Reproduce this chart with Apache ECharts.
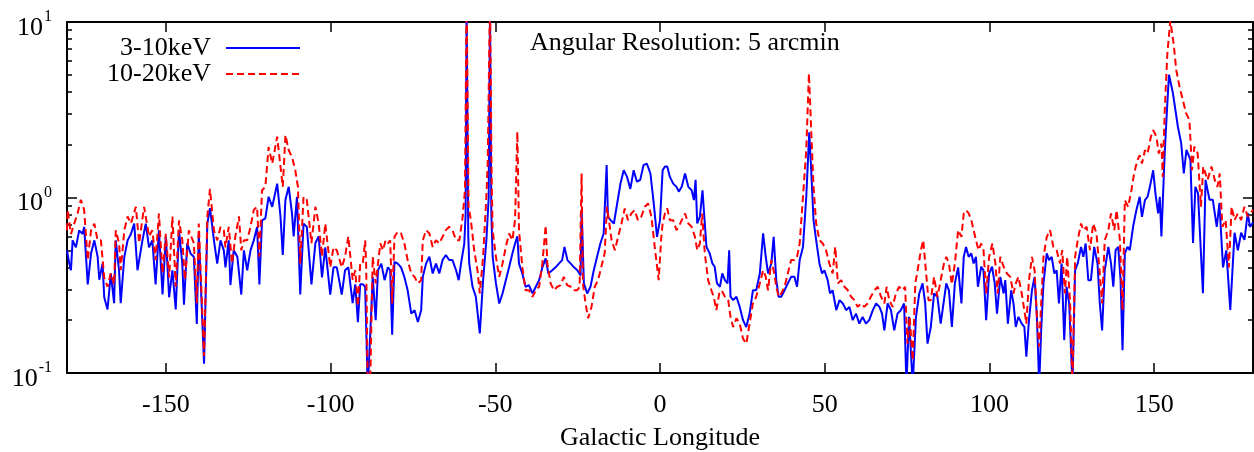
<!DOCTYPE html>
<html><head><meta charset="utf-8">
<script src="https://cdn.jsdelivr.net/npm/echarts@6/dist/echarts.min.js"></script>
<style>html,body{margin:0;padding:0;background:#fff}#c{width:1254px;height:452px}</style>
</head><body><div id="c"></div>
<script>
// ---- data ----
const lonBlue = [-180,-179.3,-178.8,-178.3,-177.3,-176.3,-175.3,-174.8,-173.7,-172.7,-171.7,-170.7,-170.2,-169.2,-168.7,-167.7,-166.7,-165.7,-165.2,-164.2,-163.7,-162.6,-161.6,-160.6,-159.6,-158.6,-157.1,-156.1,-155.1,-154.1,-153.1,-152.1,-151,-150,-149,-148,-147,-146,-145,-144.5,-143.5,-142.5,-141.5,-140.6,-140,-138.4,-137.4,-136.6,-135.4,-134.4,-133.4,-132.4,-131.9,-130.9,-130.4,-129.4,-128.3,-127.1,-126.3,-125.3,-124.3,-123.3,-122.3,-121.6,-120.8,-119.8,-118.8,-117.7,-116.2,-115.2,-114.5,-113.7,-112.7,-111.7,-111.2,-110.2,-109.2,-108.2,-107.2,-105.8,-104.6,-103.6,-102.6,-101.6,-100.1,-99.1,-98.1,-96.6,-95.6,-94.6,-93.3,-92.5,-91.7,-91,-90.2,-89.5,-88.7,-88.2,-87.2,-86.3,-85.6,-84.6,-83.6,-82.6,-81.9,-81.3,-80.6,-79.6,-78.6,-77.6,-76.6,-75.5,-74.5,-73.5,-72.5,-72,-71,-70,-69,-68,-67,-66,-65,-64,-63,-61.9,-61.1,-60.4,-59.4,-59,-58.7,-58.2,-57.9,-56.9,-55.9,-54.7,-53.7,-52.7,-52,-51.6,-51.2,-50.8,-49.8,-48.8,-47.8,-46.8,-45.8,-44.8,-44,-43.3,-42.8,-41.8,-40.8,-39.8,-38.7,-37.7,-36.7,-35.7,-34.7,-33.9,-32.7,-31.7,-30.7,-29.7,-29,-28.1,-27.1,-26.1,-25.1,-24.1,-23.8,-23.1,-22.1,-21.1,-20.1,-19.1,-18.1,-17.1,-16.2,-15.8,-15,-14,-13,-12,-11,-10,-9,-8,-7,-6,-5,-4,-2.9,-1.9,-0.9,0,0.8,1.5,2.2,3,4,5,5.7,6.6,7.6,8.6,9.6,10.3,10.8,11.3,12.1,12.9,13.6,14.1,15.1,15.9,16.6,17.3,18.2,18.9,19.7,20.5,21,21.4,22.2,23.2,24.2,25.2,26.2,27.2,28.2,29.2,30.3,31.3,32.1,32.8,33.8,34.5,35.3,36,36.8,37.8,38.8,39.8,40.8,41.6,42.4,43.4,44.4,45.3,45.9,46.6,47.4,48.4,49.2,49.9,50.9,51.6,52.4,53.5,54.5,55.5,56.5,57.5,58.5,59.5,60.5,61.5,62.5,63.5,64.6,65.6,66.6,67.4,68.1,69.1,70.1,71.1,72.1,73.1,74.1,74.8,75.6,76.7,77.7,78.7,79.7,80.5,81.2,82.2,83.2,84.2,85.2,86.2,86.9,87.7,88.6,89.5,90.5,91.5,92.2,92.9,93.7,94.5,95.2,95.9,96.5,97.5,98.2,99,99.9,100.8,101.6,102.3,103.3,104.3,104.8,105.6,106.6,107.3,108,108.8,109.8,110.6,111.2,112,112.9,113.7,114.4,115.1,115.7,116.4,117.4,118.1,118.9,119.7,120.4,121.1,121.9,122.7,123.4,124.2,125.2,126,126.8,127.8,128.5,129.2,130,130.8,131.8,132.8,133.5,134.2,135,136.1,136.9,137.6,138.3,139.1,139.8,140.4,141.1,141.9,142.6,143.6,144.6,145.6,146.3,147.2,148,148.7,149.7,150.4,151.2,151.7,152.2,153.2,154,154.5,155.7,157.2,158.2,159,159.8,161,161.8,162.5,163.3,164.8,165.6,166.8,167.8,169,169.8,170.9,171.9,173.1,174.4,175.4,176.4,177.4,178.4,179.1,180];
const valBlue = [0.50,0.42,0.385,0.57,0.52,0.65,0.62,0.68,0.32,0.48,0.57,0.46,0.34,0.42,0.27,0.23,0.37,0.25,0.57,0.385,0.25,0.46,0.57,0.62,0.71,0.385,0.57,0.71,0.52,0.57,0.32,0.65,0.28,0.60,0.27,0.385,0.23,0.65,0.42,0.245,0.55,0.48,0.46,0.19,0.62,0.113,0.71,0.87,0.57,0.42,0.57,0.50,0.40,0.57,0.317,0.50,0.46,0.28,0.50,0.385,0.50,0.57,0.68,0.32,0.74,0.76,1.01,0.885,1.20,0.78,0.47,0.97,1.15,0.81,0.60,1.01,0.28,0.71,0.68,0.32,0.55,0.60,0.35,0.52,0.28,0.40,0.40,0.28,0.385,0.40,0.25,0.32,0.195,0.32,0.32,0.31,0.08,0.08,0.353,0.20,0.385,0.42,0.338,0.40,0.385,0.165,0.43,0.42,0.40,0.353,0.296,0.218,0.228,0.195,0.228,0.353,0.42,0.46,0.369,0.42,0.369,0.44,0.47,0.44,0.44,0.385,0.338,0.42,0.547,0.80,12,0.60,0.42,0.31,0.272,0.168,0.338,0.57,1.0,12,0.81,0.46,0.324,0.249,0.284,0.338,0.40,0.48,0.547,0.60,0.42,0.369,0.31,0.317,0.284,0.31,0.338,0.40,0.45,0.369,0.385,0.40,0.42,0.44,0.523,0.44,0.42,0.40,0.385,0.36,0.85,0.324,0.284,0.31,0.385,0.46,0.547,0.624,1.53,0.776,0.743,0.711,0.924,1.20,1.43,1.31,1.12,1.43,1.23,1.26,1.53,1.56,1.37,0.924,0.597,0.743,1.43,1.50,1.50,1.31,1.20,1.15,1.08,1.15,1.37,1.15,1.10,0.966,1.26,0.711,0.776,1.10,0.711,0.523,0.48,0.421,0.403,0.324,0.31,0.369,0.338,0.324,0.501,0.272,0.26,0.272,0.238,0.20,0.183,0.218,0.296,0.296,0.369,0.624,0.459,0.369,0.421,0.597,0.338,0.272,0.272,0.296,0.324,0.353,0.353,0.31,0.44,0.523,1.01,2.35,1.43,0.743,0.571,0.421,0.369,0.385,0.338,0.284,0.296,0.228,0.26,0.249,0.228,0.238,0.20,0.218,0.191,0.209,0.191,0.20,0.228,0.249,0.238,0.218,0.175,0.249,0.228,0.175,0.218,0.228,0.249,0.085,0.209,0.085,0.209,0.284,0.324,0.249,0.147,0.183,0.284,0.272,0.191,0.26,0.324,0.296,0.183,0.324,0.40,0.249,0.459,0.523,0.459,0.48,0.421,0.459,0.31,0.403,0.385,0.20,0.369,0.403,0.324,0.218,0.353,0.284,0.338,0.191,0.296,0.249,0.183,0.209,0.191,0.183,0.124,0.20,0.296,0.353,0.209,0.085,0.175,0.324,0.48,0.44,0.459,0.369,0.385,0.249,0.421,0.154,0.31,0.249,0.085,0.385,0.421,0.523,0.459,0.547,0.338,0.338,0.523,0.421,0.249,0.175,0.385,0.523,0.421,0.31,0.501,0.523,0.338,0.135,0.48,0.523,0.501,0.681,0.847,1.01,0.776,0.966,1.01,1.15,1.43,1.05,0.811,1.01,0.60,1.8,3.45,5.0,3.92,2.53,2.04,1.37,1.87,1.64,0.55,1.15,1.06,0.285,1.26,0.97,0.97,0.68,0.93,0.40,0.50,0.229,0.63,0.50,0.63,0.573,0.815,0.68,0.72];
const lonRed = [-180,-179.8,-178.8,-177.8,-176.8,-175.8,-174.8,-173.7,-172.7,-171.7,-170.7,-169.7,-168.7,-167.7,-166.7,-165.7,-165.2,-164.2,-163.7,-162.6,-161.6,-160.6,-159.1,-158.1,-156.6,-155.1,-154.1,-153.1,-152.1,-151,-150,-149,-148,-147,-146,-145,-144.2,-143,-141.5,-140.6,-140,-138.4,-137.4,-136.6,-135.4,-134.4,-133.4,-132.4,-131.9,-130.9,-129.9,-128.9,-127.8,-127.1,-126.3,-125.3,-124.3,-123.3,-122.3,-121.6,-120.8,-119.8,-118.8,-117.7,-116.2,-115.2,-114.5,-113.7,-112.7,-111.7,-110.7,-109.9,-109.2,-108.2,-107.2,-105.8,-104.6,-103.6,-102.6,-101.6,-100.1,-99.1,-98.1,-96.6,-95.6,-94.6,-93.3,-92.5,-91.7,-91,-90.2,-89.5,-89.2,-88.7,-88,-87.2,-86.3,-85.6,-84.9,-84.1,-83.3,-82.6,-81.9,-81.3,-80.6,-79.6,-78.6,-77.6,-76.6,-75.5,-74.5,-73.5,-72.5,-72,-71,-70,-69,-68,-67,-66,-65,-64,-63,-61.9,-60.9,-59.9,-59.2,-58.7,-58.1,-57.4,-56.4,-55.4,-54.7,-53.7,-52.7,-52.3,-51.6,-51.1,-50.8,-49.8,-48.8,-47.8,-46.8,-45.8,-44.8,-44,-43.3,-42.8,-41.8,-40.8,-39.8,-38.7,-37.7,-36.7,-35.7,-34.7,-34.2,-33.2,-32.2,-31.2,-30.2,-29.2,-28.2,-27.1,-26.1,-25.1,-24.4,-23.8,-23.4,-22.6,-21.8,-20.8,-19.8,-18.8,-17.8,-16.8,-16.1,-15.5,-14.7,-13.7,-12.7,-11.7,-10.7,-9.7,-8.7,-7.7,-6.7,-5.7,-4.6,-3.6,-2.6,-1.6,-0.4,0.4,0.8,1.5,2.2,3,4,5,5.7,6.6,7.6,8.6,9.6,10.6,11.3,12.1,12.8,13.6,14.6,15.6,16.3,17.1,18,18.7,19.7,20.7,21.4,22.2,23.2,24.2,25.2,26.2,27.2,28.2,29.2,30.3,31.3,32.1,32.8,33.8,34.5,35.3,36,36.8,37.8,38.8,39.8,40.8,41.6,42.4,43.4,44.4,45.2,45.9,46.6,47.4,48.4,49.4,50.4,51.4,52.4,53.2,54,55,56,57,58,59,60,61,62,63,64,65.1,66.1,67.1,68.1,68.8,69.6,70.6,71.6,72.6,73.6,74.4,75.1,75.8,76.7,77.5,78.2,79.2,79.9,80.7,81.5,82.2,83.2,84.2,85.2,86.2,86.9,87.7,88.6,89.5,90.5,91.5,92.2,92.9,93.7,94.5,95.2,95.9,96.7,97.5,98.2,99,99.9,100.9,101.8,102.5,103.3,104.3,105.3,106.3,107.3,108,108.8,109.8,110.6,111.2,112,112.9,113.7,114.4,115.1,115.7,116.4,117.4,118.4,119.4,120.4,121.4,122.1,122.9,123.6,124.5,125.2,126,126.8,127.8,128.5,129.5,130.5,131.5,132.5,133.5,134.2,135,136.1,136.9,137.9,138.6,139.6,140.4,141.1,142.1,143.1,143.9,144.9,145.6,146.3,147.2,148,149,149.7,150.7,151.4,152.2,152.6,153.2,154,154.9,155.9,156.7,157.7,158.7,159.7,160.7,161.5,162.2,163.2,164.2,164.9,166.2,167.4,168.4,169.2,169.9,170.7,171.7,172.7,173.5,174.4,175.4,176.4,177.4,178.4,180];
const valRed = [0.65,0.85,0.62,0.71,0.81,0.97,0.85,0.44,0.65,0.71,0.57,0.57,0.35,0.31,0.37,0.32,0.65,0.55,0.385,0.65,0.78,0.71,0.885,0.55,0.885,0.60,0.65,0.44,0.81,0.37,0.62,0.35,0.78,0.31,0.74,0.57,0.34,0.65,0.55,0.25,0.71,0.125,0.78,1.12,0.65,0.57,0.68,0.65,0.52,0.68,0.42,0.60,0.78,0.50,0.57,0.57,0.68,0.85,0.885,0.46,1.10,1.15,1.94,1.56,2.22,1.50,1.15,2.27,1.86,1.70,1.43,1.15,0.42,1.01,0.97,0.55,0.885,0.71,0.46,0.71,0.40,0.52,0.50,0.40,0.46,0.60,0.34,0.385,0.24,0.42,0.42,0.57,0.42,0.08,0.08,0.459,0.324,0.42,0.547,0.50,0.57,0.547,0.57,0.249,0.597,0.638,0.624,0.547,0.44,0.369,0.353,0.324,0.338,0.57,0.652,0.624,0.523,0.571,0.547,0.597,0.652,0.681,0.652,0.571,0.571,0.776,1.10,14,0.885,0.743,0.50,0.385,0.284,0.459,1.01,1.56,14,1.26,0.652,0.459,0.353,0.42,0.523,0.624,0.571,0.743,2.37,0.652,0.403,0.296,0.296,0.272,0.296,0.31,0.421,0.695,0.421,0.324,0.296,0.31,0.317,0.353,0.317,0.31,0.296,0.296,0.31,1.37,0.324,0.249,0.205,0.238,0.31,0.338,0.403,0.48,0.885,0.743,0.571,0.501,0.597,0.711,0.866,0.743,0.811,0.847,0.743,0.776,0.885,0.924,0.776,0.523,0.338,0.597,0.711,0.811,0.866,0.743,0.743,0.652,0.681,0.743,0.811,0.711,0.681,0.597,0.501,0.547,0.811,0.48,0.338,0.296,0.272,0.228,0.284,0.296,0.272,0.26,0.209,0.183,0.205,0.191,0.157,0.147,0.191,0.249,0.272,0.324,0.385,0.353,0.296,0.44,0.385,0.31,0.272,0.284,0.31,0.369,0.44,0.44,0.459,0.547,1.01,1.86,5.1,2.42,1.15,0.711,0.571,0.547,0.501,0.421,0.369,0.523,0.324,0.338,0.31,0.296,0.272,0.26,0.238,0.249,0.238,0.249,0.272,0.296,0.31,0.272,0.249,0.31,0.26,0.238,0.284,0.31,0.296,0.31,0.147,0.209,0.118,0.324,0.385,0.501,0.571,0.385,0.26,0.26,0.353,0.272,0.338,0.421,0.459,0.421,0.32,0.42,0.652,0.597,0.811,0.847,0.811,0.743,0.652,0.571,0.501,0.547,0.501,0.284,0.459,0.547,0.421,0.284,0.459,0.403,0.369,0.353,0.284,0.324,0.353,0.284,0.228,0.191,0.338,0.459,0.385,0.209,0.141,0.249,0.459,0.597,0.652,0.523,0.501,0.421,0.501,0.284,0.459,0.249,0.085,0.459,0.571,0.711,0.652,0.681,0.501,0.711,0.624,0.369,0.249,0.571,0.652,0.811,0.652,0.847,0.571,0.228,0.966,0.885,1.10,1.37,1.63,1.74,1.56,1.86,1.78,2.22,2.42,2.22,1.78,2.03,1.31,3.1,6.6,10.2,7.55,5.33,4.28,3.59,3.02,2.76,1.43,1.95,1.79,0.886,1.50,1.26,1.50,1.26,1.15,1.37,0.68,0.744,0.40,0.886,0.744,0.81,0.744,0.886,0.78,0.85];
const seriesNames = ['3-10keV', '10-20keV'];
const xTicks = [-150, -100, -50, 0, 50, 100, 150];
const yMajor = [0.1, 1, 10];
const yExp = ['-1', '0', '1'];
const yMinor = [0.2,0.3,0.4,0.5,0.6,0.7,0.8,0.9,2,3,4,5,6,7,8,9];
const noteText = 'Angular Resolution: 5 arcmin';
const xTitle = 'Galactic Longitude';

const FONT = '"Liberation Serif", "DejaVu Serif", serif';
const FS = 26;
const DASH = [7, 4];
const chart = echarts.init(document.getElementById('c'), null, {renderer: 'canvas'});
const pair = (xs, ys) => xs.map((x, i) => [x, ys[i]]);
const expOf = v => { for (let i = 0; i < yMajor.length; i++) { if (Math.abs(Math.log10(v) - Math.log10(yMajor[i])) < 1e-6) return yExp[i]; } return ''; };
const baseY = {type: 'log', logBase: 10, min: 0.1, max: 10, gridIndex: 0, splitLine: {show: false}};
const line = {onZero: false, lineStyle: {color: '#000', width: 2}};
const noLine = {show: false, onZero: false};
const tickStyle = {color: '#000', width: 1.5};
chart.setOption({
  animation: false,
  title: {text: noteText, left: 530, top: 30, padding: 0,
    textStyle: {fontFamily: FONT, fontSize: FS, fontWeight: 'normal', color: '#000'}},
  legend: {orient: 'vertical', align: 'right', right: 953, top: 35, padding: 0, itemGap: 0,
    itemWidth: 74, itemHeight: 14, itemStyle: {opacity: 0},
    textStyle: {fontFamily: FONT, fontSize: FS, color: '#000', lineHeight: 24, padding: [0, 10, 0, 0]},
    data: [
      {name: seriesNames[0], lineStyle: {color: '#0000ff', width: 2, type: 'solid'}},
      {name: seriesNames[1], lineStyle: {color: '#ff0000', width: 2, type: DASH}}
    ]},
  grid: {left: 67, right: 1, top: 22, bottom: 79, containLabel: false, outerBoundsMode: 'none'},
  xAxis: [
    {type: 'value', min: -180, max: 180, position: 'bottom', axisLine: line,
     axisTick: {inside: true, length: 10, lineStyle: tickStyle, customValues: xTicks},
     axisLabel: {customValues: xTicks, margin: 19, fontFamily: FONT, fontSize: FS, color: '#000'},
     splitLine: {show: false},
     name: xTitle, nameLocation: 'middle', nameGap: 52,
     nameTextStyle: {fontFamily: FONT, fontSize: FS, color: '#000'}},
    {type: 'value', min: -180, max: 180, position: 'top', axisLine: line,
     axisTick: {inside: true, length: 10, lineStyle: tickStyle, customValues: xTicks},
     axisLabel: {show: false}, splitLine: {show: false}}
  ],
  yAxis: [
    Object.assign({}, baseY, {position: 'left', axisLine: line,
      axisTick: {inside: true, length: 10, lineStyle: tickStyle, customValues: yMajor},
      axisLabel: {customValues: yMajor, margin: 15, formatter: v => '{b|10}{s|' + expOf(v) + '}',
        rich: {b: {fontFamily: FONT, fontSize: FS, color: '#000', lineHeight: 26, padding: [12, 0, 0, 0]},
               s: {fontFamily: FONT, fontSize: 16, color: '#000', verticalAlign: 'top', lineHeight: 16, padding: [0, 0, 0, 1]}}}}),
    Object.assign({}, baseY, {position: 'left', axisLine: noLine,
      axisTick: {inside: true, length: 5, lineStyle: tickStyle, customValues: yMinor},
      axisLabel: {show: false}}),
    Object.assign({}, baseY, {position: 'right', axisLine: line,
      axisTick: {inside: true, length: 10, lineStyle: tickStyle, customValues: yMajor},
      axisLabel: {show: false}}),
    Object.assign({}, baseY, {position: 'right', axisLine: noLine,
      axisTick: {inside: true, length: 5, lineStyle: tickStyle, customValues: yMinor},
      axisLabel: {show: false}})
  ],
  series: [
    {name: seriesNames[0], type: 'line', xAxisIndex: 0, yAxisIndex: 0, data: pair(lonBlue, valBlue),
     showSymbol: false, symbol: 'none', clip: true, lineStyle: {color: '#0000ff', width: 2}, itemStyle: {color: '#0000ff'}},
    {name: seriesNames[1], type: 'line', xAxisIndex: 0, yAxisIndex: 0, data: pair(lonRed, valRed),
     showSymbol: false, symbol: 'none', clip: true, lineStyle: {color: '#ff0000', width: 2, type: DASH}, itemStyle: {color: '#ff0000'}}
  ]
});
</script></body></html>
